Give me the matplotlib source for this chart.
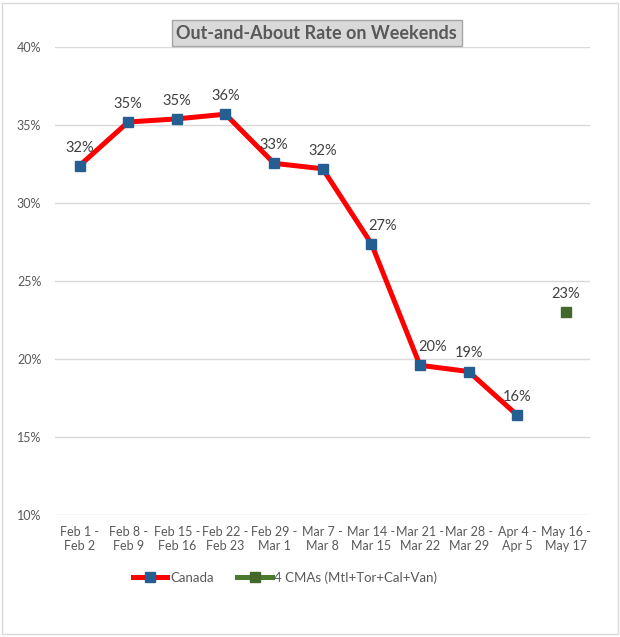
import matplotlib
matplotlib.use("Agg")
import matplotlib.pyplot as plt
from matplotlib.ticker import FuncFormatter

plt.rcParams['font.family'] = ['Lato', 'DejaVu Sans']

weekends = ["Feb 1 -\nFeb 2", "Feb 8 -\nFeb 9", "Feb 15 -\nFeb 16", "Feb 22 -\nFeb 23",
            "Feb 29 -\nMar 1", "Mar 7 -\nMar 8", "Mar 14 -\nMar 15", "Mar 21 -\nMar 22",
            "Mar 28 -\nMar 29", "Apr 4 -\nApr 5", "May 16 -\nMay 17"]
canada = [32.4, 35.2, 35.4, 35.7, 32.55, 32.2, 27.4, 19.6, 19.2, 16.4]
cmas = [23.0]
cma_pos = [10]

fig = plt.figure(figsize=(6.2, 6.37), dpi=100)
ax = fig.add_axes([0.089, 0.1915, 0.863, 0.7345])

xs = list(range(len(canada)))
ax.plot(xs, canada, color="#ff0000", lw=3.6, marker="s", ms=6.5,
        mfc="#255e91", mec="#255e91", label="Canada", zorder=3)
ax.plot(cma_pos, cmas, color="#4a7a2c", lw=3.6, marker="s", ms=7,
        mfc="#43682b", mec="#43682b", linestyle="none", zorder=3)
# legend proxy with line
lg_cma, = ax.plot([], [], color="#4a7a2c", lw=3.6, marker="s", ms=6.5,
                  mfc="#43682b", mec="#43682b", label="4 CMAs (Mtl+Tor+Cal+Van)")

# labels on the steep drop sit a bit to the right, like in Excel
shift = {6: 8, 7: 9}
for x, v in zip(xs, canada):
    ax.annotate(f"{round(v)}%", (x, v), xytext=(shift.get(x, 0), 8), textcoords="offset points",
                ha="center", va="bottom", fontsize=10.5, color="#404040")
for x, v in zip(cma_pos, cmas):
    ax.annotate(f"{round(v)}%", (x, v), xytext=(0, 8), textcoords="offset points",
                ha="center", va="bottom", fontsize=10.5, color="#404040")

ax.set_xlim(-0.5, len(weekends) - 0.5)
ax.set_ylim(10, 40)
ax.set_yticks(range(10, 41, 5))
ax.yaxis.set_major_formatter(FuncFormatter(lambda v, p: f"{v:.0f}%"))
ax.set_xticks(range(len(weekends)))
ax.set_xticklabels(weekends)
ax.tick_params(axis="both", length=0, labelsize=9, labelcolor="#595959")
ax.tick_params(axis="x", pad=8)
ax.tick_params(axis="y", pad=10)
ax.grid(axis="y", color="#d9d9d9", lw=1)
ax.set_axisbelow(True)
for s in ax.spines.values():
    s.set_visible(False)

fig.text(0.511, 0.948, "Out-and-About Rate on Weekends", ha="center", va="center",
         fontsize=13, fontweight="bold", color="#595959",
         bbox=dict(boxstyle="square,pad=0.25", fc="#d9d9d9", ec="#a6a6a6", lw=1))

fig.legend(handles=[ax.lines[0], lg_cma], loc="center", bbox_to_anchor=(0.46, 0.093),
           ncol=2, frameon=False, fontsize=9.5, labelcolor="#595959",
           handlelength=2.6, handletextpad=0.2, columnspacing=1.8)

fig.patches.append(plt.Rectangle((0.004, 0.004), 0.992, 0.992, transform=fig.transFigure,
                                 fill=False, ec="#d9d9d9", lw=1))

fig.savefig("out.png", dpi=100)
